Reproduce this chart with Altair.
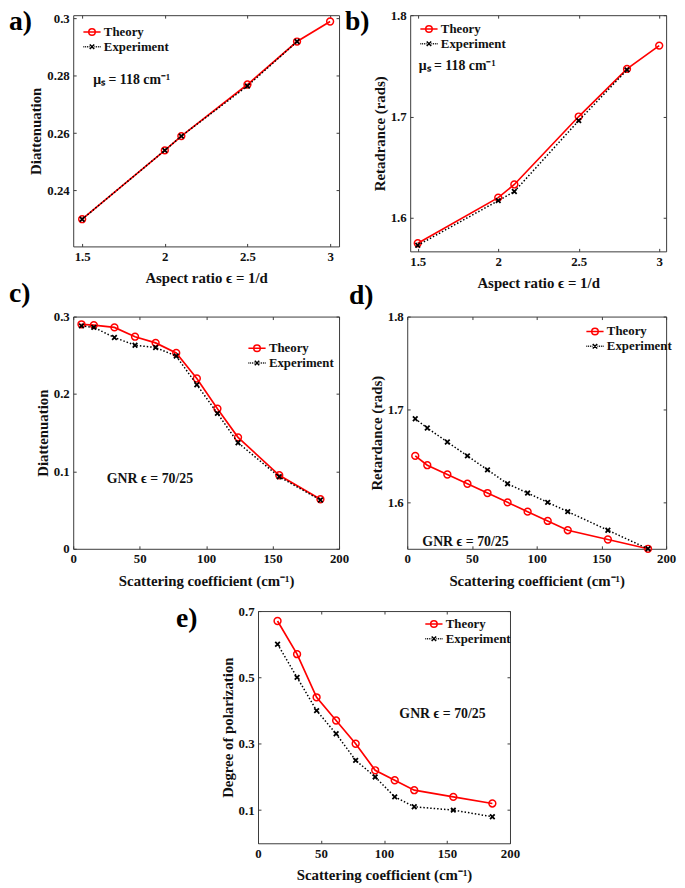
import altair as alt
import pandas as pd

FONT = "Liberation Serif"
RED = "#ff0000"
BLACK = "#000000"
FRAME = "#3a3a3a"
SERIES = ["Theory", "Experiment"]

# ---------------- data ----------------
# panel a : diattenuation vs aspect ratio
a_x_th = [1.5, 2.0, 2.1, 2.5, 2.8, 3.0]
a_y_th = [0.230, 0.254, 0.259, 0.277, 0.292, 0.299]
a_x_ex = [1.5, 2.0, 2.1, 2.5, 2.8]
a_y_ex = [0.230, 0.254, 0.259, 0.2765, 0.292]

# panel b : retardance vs aspect ratio
b_x_th = [1.5, 2.0, 2.1, 2.5, 2.8, 3.0]
b_y_th = [1.575, 1.620, 1.633, 1.700, 1.747, 1.770]
b_x_ex = [1.5, 2.0, 2.1, 2.5, 2.8]
b_y_ex = [1.573, 1.617, 1.626, 1.696, 1.746]

# panels c, d : vs scattering coefficient
cd_x = [6.2, 15.5, 31, 46.5, 62, 77.5, 93, 108.5, 124, 155, 186]
c_y_th = [0.290, 0.289, 0.286, 0.274, 0.266, 0.253, 0.220, 0.181, 0.144, 0.095, 0.064]
c_y_ex = [0.288, 0.286, 0.273, 0.263, 0.260, 0.249, 0.212, 0.175, 0.137, 0.093, 0.063]
d_y_th = [1.65, 1.64, 1.63, 1.62, 1.61, 1.60, 1.59, 1.58, 1.57, 1.56, 1.55]
d_y_ex = [1.69, 1.68, 1.665, 1.65, 1.635, 1.62, 1.61, 1.60, 1.59, 1.57, 1.55]

# panel e : degree of polarization
e_x = [15.5, 31, 46.5, 62, 77.5, 93, 108.5, 124, 155, 186]
e_y_th = [0.67, 0.57, 0.44, 0.37, 0.30, 0.22, 0.19, 0.16, 0.14, 0.12]
e_y_ex = [0.60, 0.50, 0.40, 0.33, 0.25, 0.20, 0.14, 0.11, 0.10, 0.08]

# ---------------- symbols ----------------
X_PATH = "M-1,-1L1,1M-1,1L1,-1"
LEG_TH = ("M-1.45,0L1.45,0"
          "M0.55,0A0.55,0.55,0,1,1,-0.55,0A0.55,0.55,0,1,1,0.55,0")
LEG_EX = ("M-1.45,0L-1.3,0M-1.15,0L-1.0,0M-0.85,0L-0.7,0M-0.55,0L-0.42,0"
          "M0.42,0L0.55,0M0.7,0L0.85,0M1.0,0L1.15,0M1.3,0L1.45,0"
          "M-0.38,-0.38L0.38,0.38M-0.38,0.38L0.38,-0.38")


def panel(letter, lx_px, ly_px, x_th, y_th, x_ex, y_ex, xdom, ydom, xticks,
          yticks, xtitle, ytitle, w, h, lx, ly, note, nx, ny):
    th = pd.DataFrame({"x": x_th, "y": y_th, "series": "Theory"})
    ex = pd.DataFrame({"x": x_ex, "y": y_ex, "series": "Experiment"})
    both = pd.concat([th, ex], ignore_index=True)
    xs = alt.Scale(domain=xdom, nice=False, zero=False)
    ys = alt.Scale(domain=ydom, nice=False, zero=False)

    def X(axis):
        return alt.X("x:Q", scale=xs, axis=axis)

    def Y(axis):
        return alt.Y("y:Q", scale=ys, axis=axis)

    ax_b = alt.Axis(values=xticks, format="~r", title=xtitle, labelFlush=False)
    ax_l = alt.Axis(values=yticks, format="~r", title=ytitle)
    ax_t = alt.Axis(orient="top", values=xticks, labels=False, title=None)
    ax_r = alt.Axis(orient="right", values=yticks, labels=False, title=None,
                    minExtent=0)

    l_th = alt.Chart(th).mark_line(color=RED, strokeWidth=1.7).encode(
        x=X(ax_b), y=Y(ax_l))
    p_th = alt.Chart(th).mark_point(shape="circle", color=RED, filled=False,
                                    size=48, strokeWidth=1.5, opacity=1).encode(
        x=X(None), y=Y(None))
    l_ex = alt.Chart(ex).mark_line(color=BLACK, strokeDash=[1.5, 2],
                                   strokeWidth=1.5).encode(x=X(ax_t), y=Y(ax_r))
    p_ex = alt.Chart(ex).mark_point(shape=X_PATH, color=BLACK, filled=False,
                                    size=22, strokeWidth=1.8, opacity=1).encode(
        x=X(None), y=Y(None))
    leg = alt.Legend(title=None, orient="none", legendX=lx, legendY=ly,
                     symbolSize=144, symbolStrokeWidth=1.5, symbolOpacity=1,
                     labelFont=FONT, labelFontSize=13, labelFontWeight="bold",
                     labelColor="#111111", labelOffset=5, rowPadding=1,
                     padding=0)
    p_leg = alt.Chart(both).mark_point(opacity=0, filled=False).encode(
        x=X(None), y=Y(None),
        color=alt.Color("series:N", scale=alt.Scale(domain=SERIES,
                                                    range=[RED, BLACK]),
                        legend=leg),
        shape=alt.Shape("series:N", scale=alt.Scale(domain=SERIES,
                                                    range=[LEG_TH, LEG_EX]),
                        legend=leg))
    nd = pd.DataFrame({"x": [nx], "y": [ny], "t": [note]})
    txt = alt.Chart(nd).mark_text(font=FONT, fontSize=14, fontWeight="bold",
                                  align="left", baseline="alphabetic",
                                  color="#111111").encode(
        x=X(None), y=Y(None), text="t:N")
    ld = pd.DataFrame({"t": [letter]})
    lab = alt.Chart(ld).mark_text(font=FONT, fontSize=28, fontWeight="bold",
                                  align="left", baseline="alphabetic",
                                  color="black").encode(
        x=alt.value(lx_px), y=alt.value(ly_px), text="t:N")
    return alt.layer(l_th, p_th, l_ex, p_ex, p_leg, txt, lab).resolve_axis(
        x="independent", y="independent").properties(width=w, height=h)


SC = "Scattering coefficient (cm\u207b\u00b9)"
MU = "\u03bc\u209b = 118 cm\u207b\u00b9"
GNR = "GNR \u03f5 = 70/25"

pa = panel("a)", -65, 15, a_x_th, a_y_th, a_x_ex, a_y_ex, [1.446, 3.054],
           [0.2205, 0.3012], [1.5, 2, 2.5, 3], [0.24, 0.26, 0.28, 0.3],
           "Aspect ratio \u03f5 = 1/d", "Diattenuation", 269, 234,
           12, 10, MU, 1.567, 0.2772)
pb = panel("b)", -66, 15, b_x_th, b_y_th, b_x_ex, b_y_ex, [1.453, 3.043],
           [1.567, 1.8], [1.5, 2, 2.5, 3], [1.6, 1.7, 1.8],
           "Aspect ratio \u03f5 = 1/d", "Retadrance (rads)", 259, 239,
           12, 7, MU, 1.506, 1.7455)
pc = panel("c)", -65, -15, cd_x, c_y_th, cd_x, c_y_ex, [0, 200], [0, 0.3],
           [0, 50, 100, 150, 200], [0, 0.1, 0.2, 0.3],
           SC, "Diattenuation", 269, 235, 179, 25, GNR, 25.3, 0.0851)
pd_ = panel("d)", -59, -13, cd_x, d_y_th, cd_x, d_y_ex, [0, 200], [1.55, 1.8],
            [0, 50, 100, 150, 200], [1.6, 1.7, 1.8],
            SC, "Retardance (rads)", 262, 235, 183, 8, GNR, 11.7, 1.5535)
pe = panel("e)", -83, 16, e_x, e_y_th, e_x, e_y_ex, [0, 200], [0, 0.7],
           [0, 50, 100, 150, 200], [0.1, 0.3, 0.5, 0.7],
           SC, "Degree of polarization", 255, 235, 171, 6, GNR, 112.2, 0.3766)

spacer = alt.Chart(pd.DataFrame({"x": [0]})).mark_point(opacity=0).encode(
    x=alt.X("x:Q", axis=None)).properties(
    width=187, height=10, view=alt.ViewBackground(stroke=None))

IND = dict(color="independent", shape="independent")
row1 = alt.hconcat(pa, pb, spacing=72, bounds="flush").resolve_scale(
    **IND).resolve_legend(**IND)
row2 = alt.hconcat(pc, pd_, spacing=69, bounds="flush").resolve_scale(
    **IND).resolve_legend(**IND)
row3 = alt.hconcat(spacer, pe, spacing=0, bounds="flush").resolve_scale(
    **IND).resolve_legend(**IND)

top = alt.vconcat(row1, row2, spacing=-13).resolve_scale(
    **IND).resolve_legend(**IND)

chart = alt.vconcat(top, row3, spacing=15).resolve_scale(
    **IND).resolve_legend(**IND).properties(
    padding={"top": -6, "left": 0, "right": 0, "bottom": 0},
    background="white"
).configure_view(stroke=FRAME, strokeWidth=1).configure_axis(
    labelFont=FONT, labelFontSize=13, labelFontWeight="bold",
    labelColor="#111111", titleFont=FONT, titleFontSize=15,
    titleFontWeight="bold", titleColor="#111111", grid=False, domain=False,
    ticks=True, tickSize=3, tickColor=FRAME, offset=-3, labelPadding=4,
    titlePadding=8
).configure_axisLeft(titlePadding=3)

chart.save("out.html", embed_options={"renderer": "svg", "actions": False})
